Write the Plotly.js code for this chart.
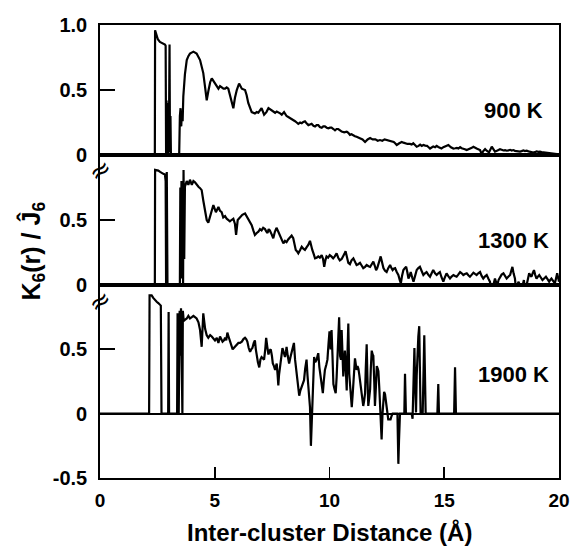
<!DOCTYPE html>
<html>
<head>
<meta charset="utf-8">
<script src="https://cdn.plot.ly/plotly-3.0.1.min.js"></script>
<style>html,body{margin:0;padding:0;background:#fff;}#chart{width:571px;height:548px;}</style>
</head>
<body>
<div id="chart"></div>
<script>
// ---- data ----
const x900 = [0, 2.39, 2.40, 2.45, 2.52, 2.61, 2.72, 2.83, 2.86, 2.88, 2.90, 2.92, 2.94, 2.96, 2.98, 3.00, 3.03, 3.05, 3.07, 3.09, 3.45, 3.48, 3.51, 3.54, 3.57, 3.60, 3.63, 3.70, 3.78, 3.85, 3.92, 4.07, 4.21, 4.36, 4.50, 4.58, 4.65, 4.72, 4.80, 4.87, 4.94, 5.01, 5.09, 5.16, 5.23, 5.30, 5.38, 5.45, 5.52, 5.59, 5.67, 5.74, 5.81, 5.88, 5.96, 6.06, 6.18, 6.32, 6.39, 6.46, 6.54, 6.61, 6.75, 6.83, 6.90, 6.97, 7.04, 7.15, 7.25, 7.34, 7.48, 7.55, 7.63, 7.70, 7.77, 7.85, 7.92, 8.02, 8.13, 8.24, 8.35, 8.42, 8.50, 8.57, 8.64, 8.72, 8.79, 8.86, 8.93, 9.00, 9.08, 9.15, 9.22, 9.30, 9.37, 9.44, 9.51, 9.58, 9.66, 9.73, 9.80, 9.88, 9.95, 10.02, 10.09, 10.17, 10.24, 10.31, 10.38, 10.46, 10.53, 10.64, 10.75, 10.82, 10.89, 10.96, 11.04, 11.11, 11.18, 11.26, 11.33, 11.44, 11.55, 11.66, 11.77, 11.88, 12.00, 12.10, 12.20, 12.30, 12.40, 12.52, 12.64, 12.72, 12.80, 12.86, 12.93, 13.04, 13.15, 13.22, 13.30, 13.40, 13.51, 13.58, 13.65, 13.72, 13.80, 13.88, 13.95, 14.02, 14.09, 14.17, 14.25, 14.32, 14.38, 14.45, 14.52, 14.60, 14.67, 14.74, 14.81, 14.88, 14.96, 15.07, 15.18, 15.29, 15.40, 15.48, 15.55, 15.62, 15.69, 15.76, 15.83, 15.90, 15.98, 16.05, 16.12, 16.20, 16.27, 16.34, 16.41, 16.48, 16.56, 16.60, 16.63, 16.70, 16.78, 16.85, 16.95, 17.07, 17.14, 17.21, 17.32, 17.43, 17.50, 17.58, 17.65, 17.72, 17.80, 17.87, 17.94, 18.01, 18.08, 18.15, 18.23, 18.30, 18.37, 18.45, 18.52, 18.59, 18.67, 18.74, 18.81, 18.88, 18.95, 19.02, 19.10, 19.17, 19.24, 19.31, 19.38, 19.46, 19.53, 19.60, 19.68, 19.75, 19.82, 19.90, 20.00];
const y900 = [0, 0, 0.96, 0.92, 0.89, 0.87, 0.86, 0.85, 0.84, 0.00, 0.42, 0.02, 0.38, 0.00, 0.40, 0.05, 0.85, 0.02, 0.30, 0.00, 0.00, 0.30, 0.36, 0.22, 0.34, 0.26, 0.45, 0.62, 0.73, 0.76, 0.78, 0.795, 0.78, 0.73, 0.63, 0.52, 0.42, 0.49, 0.56, 0.59, 0.57, 0.55, 0.53, 0.51, 0.53, 0.52, 0.51, 0.51, 0.52, 0.51, 0.45, 0.40, 0.36, 0.44, 0.50, 0.55, 0.51, 0.50, 0.46, 0.40, 0.36, 0.33, 0.32, 0.33, 0.325, 0.34, 0.36, 0.31, 0.33, 0.36, 0.34, 0.33, 0.325, 0.335, 0.33, 0.32, 0.31, 0.33, 0.30, 0.29, 0.28, 0.27, 0.26, 0.25, 0.24, 0.25, 0.245, 0.255, 0.26, 0.245, 0.23, 0.235, 0.24, 0.225, 0.22, 0.23, 0.23, 0.215, 0.21, 0.22, 0.22, 0.21, 0.205, 0.21, 0.21, 0.20, 0.19, 0.20, 0.20, 0.19, 0.18, 0.175, 0.18, 0.17, 0.155, 0.16, 0.15, 0.145, 0.14, 0.135, 0.13, 0.12, 0.10, 0.12, 0.13, 0.12, 0.12, 0.11, 0.115, 0.11, 0.12, 0.115, 0.11, 0.105, 0.10, 0.09, 0.077, 0.09, 0.10, 0.095, 0.09, 0.085, 0.085, 0.08, 0.09, 0.075, 0.064, 0.07, 0.08, 0.07, 0.077, 0.072, 0.07, 0.06, 0.05, 0.058, 0.065, 0.06, 0.07, 0.062, 0.055, 0.05, 0.06, 0.068, 0.077, 0.06, 0.05, 0.052, 0.055, 0.05, 0.06, 0.052, 0.05, 0.045, 0.038, 0.042, 0.045, 0.055, 0.064, 0.055, 0.05, 0.045, 0.038, 0.02, 0.005, 0.03, 0.045, 0.033, 0.02, 0.064, 0.04, 0.026, 0.035, 0.044, 0.04, 0.035, 0.038, 0.033, 0.036, 0.04, 0.034, 0.038, 0.032, 0.03, 0.028, 0.026, 0.03, 0.035, 0.03, 0.033, 0.028, 0.025, 0.02, 0.018, 0.022, 0.028, 0.024, 0.026, 0.022, 0.02, 0.019, 0.018, 0.016, 0.015, 0.014, 0.013, 0.01, 0.008, 0.005];

const x1300 = [0, 2.39, 2.40, 2.47, 2.54, 2.62, 2.69, 2.76, 2.83, 2.86, 2.88, 2.91, 2.94, 3.48, 3.50, 3.52, 3.55, 3.57, 3.60, 3.62, 3.64, 3.67, 3.70, 3.78, 3.85, 3.92, 4.00, 4.07, 4.14, 4.21, 4.29, 4.36, 4.43, 4.50, 4.58, 4.65, 4.72, 4.82, 4.94, 5.05, 5.16, 5.23, 5.30, 5.37, 5.45, 5.52, 5.59, 5.66, 5.73, 5.81, 5.88, 5.93, 6.00, 6.10, 6.20, 6.32, 6.39, 6.46, 6.54, 6.61, 6.68, 6.75, 6.83, 6.90, 6.97, 7.04, 7.11, 7.19, 7.25, 7.30, 7.35, 7.40, 7.48, 7.55, 7.62, 7.69, 7.77, 7.84, 7.92, 7.99, 8.06, 8.13, 8.20, 8.28, 8.35, 8.42, 8.48, 8.53, 8.58, 8.64, 8.72, 8.79, 8.86, 8.93, 9.00, 9.08, 9.15, 9.20, 9.25, 9.31, 9.37, 9.44, 9.51, 9.58, 9.66, 9.72, 9.77, 9.82, 9.87, 9.94, 10.01, 10.08, 10.16, 10.23, 10.31, 10.38, 10.45, 10.53, 10.60, 10.65, 10.70, 10.75, 10.82, 10.89, 10.96, 11.04, 11.11, 11.18, 11.25, 11.33, 11.40, 11.47, 11.55, 11.62, 11.70, 11.77, 11.84, 11.91, 11.97, 12.03, 12.08, 12.13, 12.18, 12.23, 12.29, 12.35, 12.42, 12.49, 12.56, 12.64, 12.70, 12.75, 12.80, 12.86, 12.93, 13.00, 13.06, 13.11, 13.16, 13.22, 13.28, 13.34, 13.39, 13.44, 13.49, 13.54, 13.60, 13.66, 13.73, 13.80, 13.87, 13.94, 14.01, 14.09, 14.16, 14.23, 14.30, 14.38, 14.45, 14.52, 14.60, 14.67, 14.74, 14.81, 14.88, 14.96, 15.03, 15.10, 15.17, 15.25, 15.32, 15.40, 15.47, 15.54, 15.61, 15.69, 15.76, 15.83, 15.90, 15.98, 16.05, 16.12, 16.20, 16.27, 16.34, 16.41, 16.48, 16.56, 16.63, 16.70, 16.77, 16.85, 16.92, 16.99, 17.05, 17.09, 17.14, 17.21, 17.26, 17.31, 17.37, 17.43, 17.50, 17.58, 17.65, 17.72, 17.80, 17.87, 17.92, 17.97, 18.02, 18.08, 18.12, 18.16, 18.20, 18.23, 18.30, 18.37, 18.42, 18.47, 18.52, 18.55, 18.59, 18.65, 18.70, 18.75, 18.80, 18.85, 18.91, 18.96, 19.02, 19.08, 19.14, 19.20, 19.28, 19.35, 19.43, 19.50, 19.57, 19.62, 19.67, 19.75, 19.82, 19.87, 19.92, 19.97, 20.00];
const y1300 = [0, 0, 0.885, 0.885, 0.88, 0.87, 0.86, 0.855, 0.85, 0.80, 0.00, 0.87, 0.00, 0.00, 0.75, 0.10, 0.80, 0.05, 0.70, 0.00, 0.885, 0.20, 0.756, 0.80, 0.77, 0.81, 0.77, 0.80, 0.79, 0.77, 0.756, 0.745, 0.73, 0.65, 0.56, 0.50, 0.48, 0.55, 0.615, 0.56, 0.60, 0.57, 0.56, 0.52, 0.53, 0.51, 0.50, 0.49, 0.50, 0.51, 0.47, 0.385, 0.50, 0.52, 0.54, 0.55, 0.53, 0.51, 0.49, 0.46, 0.42, 0.385, 0.40, 0.41, 0.43, 0.42, 0.44, 0.43, 0.41, 0.40, 0.43, 0.42, 0.39, 0.36, 0.41, 0.44, 0.41, 0.385, 0.35, 0.32, 0.34, 0.33, 0.35, 0.37, 0.38, 0.36, 0.31, 0.27, 0.26, 0.244, 0.27, 0.295, 0.28, 0.27, 0.29, 0.31, 0.34, 0.30, 0.27, 0.24, 0.205, 0.21, 0.22, 0.21, 0.23, 0.20, 0.14, 0.19, 0.22, 0.21, 0.23, 0.22, 0.205, 0.22, 0.244, 0.21, 0.19, 0.20, 0.22, 0.24, 0.26, 0.22, 0.17, 0.16, 0.19, 0.205, 0.18, 0.154, 0.16, 0.17, 0.15, 0.13, 0.14, 0.154, 0.145, 0.14, 0.16, 0.18, 0.15, 0.115, 0.13, 0.154, 0.19, 0.22, 0.17, 0.13, 0.11, 0.10, 0.13, 0.154, 0.13, 0.115, 0.125, 0.13, 0.10, 0.077, 0.04, 0.013, 0.07, 0.115, 0.13, 0.14, 0.10, 0.05, 0.07, 0.10, 0.06, 0.026, 0.07, 0.115, 0.13, 0.14, 0.11, 0.077, 0.09, 0.10, 0.08, 0.064, 0.09, 0.115, 0.09, 0.077, 0.09, 0.10, 0.06, 0.026, 0.06, 0.09, 0.07, 0.05, 0.065, 0.077, 0.07, 0.064, 0.08, 0.10, 0.09, 0.077, 0.085, 0.09, 0.075, 0.064, 0.08, 0.095, 0.085, 0.077, 0.09, 0.10, 0.07, 0.05, 0.065, 0.077, 0.05, 0.026, -0.02, -0.06, 0.00, 0.05, 0.02, 0.00, 0.04, 0.064, 0.08, 0.09, 0.07, 0.05, 0.065, 0.077, 0.11, 0.14, 0.09, 0.05, -0.02, -0.07, 0.00, 0.026, 0.00, -0.038, 0.00, 0.038, -0.04, -0.09, 0.00, 0.05, 0.09, 0.075, 0.064, 0.09, 0.115, 0.08, 0.05, 0.065, 0.077, 0.06, 0.038, 0.05, 0.064, 0.045, 0.026, 0.04, 0.05, 0.03, 0.013, 0.05, 0.09, 0.05, 0.026];

const x1900 = [0, 2.14, 2.16, 2.25, 2.32, 2.40, 2.47, 2.54, 2.60, 2.65, 2.68, 2.97, 2.99, 3.01, 3.36, 3.38, 3.41, 3.43, 3.47, 3.50, 3.53, 3.56, 3.59, 3.61, 3.65, 3.70, 3.78, 3.85, 3.92, 4.00, 4.07, 4.14, 4.21, 4.29, 4.36, 4.43, 4.50, 4.58, 4.65, 4.72, 4.80, 4.87, 4.94, 5.01, 5.09, 5.16, 5.23, 5.30, 5.34, 5.40, 5.45, 5.50, 5.55, 5.60, 5.66, 5.72, 5.78, 5.83, 5.88, 5.95, 6.03, 6.10, 6.18, 6.25, 6.32, 6.37, 6.42, 6.48, 6.54, 6.59, 6.64, 6.70, 6.75, 6.79, 6.83, 6.88, 6.94, 6.99, 7.04, 7.10, 7.15, 7.20, 7.24, 7.29, 7.34, 7.39, 7.44, 7.49, 7.53, 7.58, 7.63, 7.67, 7.70, 7.74, 7.77, 7.80, 7.84, 7.90, 7.95, 8.00, 8.06, 8.10, 8.13, 8.18, 8.24, 8.30, 8.35, 8.40, 8.45, 8.50, 8.57, 8.62, 8.68, 8.73, 8.79, 8.84, 8.89, 8.94, 9.00, 9.04, 9.08, 9.12, 9.15, 9.19, 9.23, 9.27, 9.30, 9.33, 9.38, 9.44, 9.48, 9.51, 9.56, 9.62, 9.66, 9.71, 9.75, 9.80, 9.86, 9.91, 9.96, 10.00, 10.05, 10.09, 10.13, 10.17, 10.22, 10.27, 10.31, 10.34, 10.38, 10.42, 10.46, 10.50, 10.53, 10.57, 10.60, 10.64, 10.67, 10.71, 10.75, 10.78, 10.82, 10.86, 10.92, 10.97, 11.01, 11.04, 11.08, 11.11, 11.15, 11.18, 11.22, 11.26, 11.30, 11.33, 11.37, 11.40, 11.44, 11.47, 11.51, 11.55, 11.58, 11.62, 11.65, 11.69, 11.73, 11.77, 11.80, 11.84, 11.88, 11.91, 11.95, 11.98, 12.02, 12.06, 12.10, 12.13, 12.17, 12.20, 12.24, 12.27, 12.31, 12.35, 12.38, 12.42, 12.46, 12.49, 12.53, 12.56, 12.61, 12.66, 12.70, 12.75, 12.96, 12.98, 13.00, 13.03, 13.07, 13.26, 13.29, 13.33, 13.58, 13.62, 13.66, 13.70, 13.73, 13.77, 13.80, 13.83, 13.87, 13.91, 13.94, 13.97, 14.06, 14.09, 14.13, 14.16, 14.19, 14.70, 14.74, 14.77, 15.43, 15.47, 15.51, 20.00];
const y1900 = [0, 0, 0.92, 0.92, 0.90, 0.88, 0.87, 0.86, 0.85, 0.84, 0.00, 0.00, 0.79, 0.00, 0.00, 0.78, 0.10, 0.00, 0.80, 0.45, 0.82, 0.00, 0.00, 0.80, 0.72, 0.73, 0.74, 0.76, 0.74, 0.75, 0.76, 0.75, 0.74, 0.71, 0.65, 0.52, 0.78, 0.66, 0.61, 0.59, 0.61, 0.60, 0.58, 0.57, 0.59, 0.55, 0.60, 0.58, 0.56, 0.57, 0.59, 0.57, 0.63, 0.60, 0.56, 0.53, 0.50, 0.51, 0.52, 0.54, 0.55, 0.55, 0.56, 0.58, 0.59, 0.58, 0.56, 0.51, 0.48, 0.50, 0.51, 0.55, 0.57, 0.50, 0.44, 0.40, 0.36, 0.42, 0.44, 0.43, 0.42, 0.50, 0.59, 0.52, 0.46, 0.49, 0.50, 0.45, 0.39, 0.37, 0.34, 0.37, 0.39, 0.30, 0.22, 0.30, 0.36, 0.45, 0.51, 0.48, 0.44, 0.48, 0.52, 0.45, 0.39, 0.44, 0.48, 0.52, 0.55, 0.42, 0.31, 0.22, 0.14, 0.18, 0.21, 0.24, 0.26, 0.35, 0.42, 0.30, 0.18, 0.08, 0.05, -0.25, 0.00, 0.10, 0.30, 0.44, 0.40, 0.42, 0.45, 0.47, 0.36, 0.26, 0.20, 0.16, 0.25, 0.34, 0.38, 0.42, 0.55, 0.64, 0.50, 0.65, 0.45, 0.23, 0.19, 0.16, 0.28, 0.39, 0.60, 0.75, 0.45, 0.42, 0.65, 0.40, 0.29, 0.40, 0.49, 0.35, 0.18, 0.45, 0.70, 0.31, 0.15, 0.05, 0.15, 0.26, 0.36, 0.43, 0.38, 0.34, 0.37, 0.35, 0.30, 0.26, 0.20, 0.16, 0.10, 0.06, 0.10, 0.16, 0.35, 0.54, 0.30, 0.06, 0.12, 0.19, 0.35, 0.49, 0.46, 0.45, 0.25, 0.06, 0.20, 0.37, 0.35, 0.33, 0.20, 0.09, -0.05, -0.20, 0.00, 0.11, 0.17, 0.15, 0.08, 0.02, -0.02, -0.045, -0.045, -0.045, -0.02, 0.00, 0.00, -0.20, -0.39, -0.20, 0.00, 0.00, 0.31, 0.00, 0.00, -0.04, 0.20, 0.51, 0.25, 0.01, 0.30, 0.50, 0.60, 0.68, 0.30, 0.00, 0.00, 0.30, 0.61, 0.30, 0.00, 0.00, 0.23, 0.00, 0.00, 0.36, 0.00, 0.00];

const tempLabels = ["900 K", "1300 K", "1900 K"];
const xTickVals = [0, 5, 10, 15, 20];
const xTickText = ["0", "5", "10", "15", "20"];
const y1TickVals = [0, 0.5, 1.0];
const y1TickText = ["0", "0.5", "1.0"];
const y2TickVals = [0, 0.5];
const y2TickText = ["0", "0.5"];
const y3TickVals = [-0.5, 0, 0.5];
const y3TickText = ["-0.5", "0", "0.5"];
const xTitle = "Inter-cluster Distance (Å)";
const yTitle = "K<sub>6</sub>(r) / Ĵ<sub>6</sub>";

// ---- chart ----
const FONT = "Liberation Sans, Arial, Helvetica, sans-serif";
const lineStyle = {color: "#000", width: 2.2};
const traces = [
  {x: x900, y: y900, xaxis: "x", yaxis: "y", mode: "lines", line: lineStyle, hoverinfo: "skip"},
  {x: x1300, y: y1300, xaxis: "x2", yaxis: "y2", mode: "lines", line: lineStyle, hoverinfo: "skip"},
  {x: x1900, y: y1900, xaxis: "x3", yaxis: "y3", mode: "lines", line: lineStyle, hoverinfo: "skip"}
];

const xTickFont = {family: FONT, size: 19, color: "#000", weight: "bold"};
const yTickFont = {family: FONT, size: 20, color: "#000", weight: "bold"};
function xAx(anchor, labels) {
  return {
    anchor: anchor, range: [0, 20], showgrid: false, zeroline: false,
    showline: true, mirror: true, linecolor: "#000", linewidth: 1.8,
    tickvals: xTickVals, ticktext: xTickText,
    ticks: labels ? "inside" : "", ticklen: 11, tickwidth: 1.8, tickcolor: "#000",
    showticklabels: labels, tickfont: xTickFont, ticklabelstandoff: 4
  };
}
function yAx(domain, range, tv, tt, zl) {
  return {
    domain: domain, range: range, showgrid: false,
    zeroline: zl, zerolinecolor: "#000", zerolinewidth: 1.8,
    showline: true, mirror: true, linecolor: "#000", linewidth: 1.8,
    tickvals: tv, ticktext: tt, ticks: "inside", ticklen: 15, tickwidth: 1.8, tickcolor: "#000",
    tickfont: yTickFont, ticklabelstandoff: 7
  };
}

const lblFont = {family: FONT, size: 22, color: "#000", weight: "bold"};
const brkFont = {family: "DejaVu Sans, sans-serif", size: 26, color: "#000"};
const layout = {
  width: 571, height: 548,
  margin: {l: 100, r: 12, t: 25, b: 70},
  paper_bgcolor: "#fff", plot_bgcolor: "#fff",
  showlegend: false,
  xaxis: xAx("y", false),
  xaxis2: xAx("y2", false),
  xaxis3: xAx("y3", true),
  yaxis: yAx([0.713, 1], [0, 1.0], y1TickVals, y1TickText, false),
  yaxis2: yAx([0.426, 0.713], [0, 1.0], y2TickVals, y2TickText, false),
  yaxis3: yAx([0, 0.426], [-0.5, 1.0], y3TickVals, y3TickText, true),
  annotations: [
    {xref: "x", yref: "y", x: 19.4, y: 0.346, xanchor: "right", yanchor: "middle", text: tempLabels[0], showarrow: false, font: lblFont},
    {xref: "x2", yref: "y2", x: 19.65, y: 0.346, xanchor: "right", yanchor: "middle", text: tempLabels[1], showarrow: false, font: lblFont},
    {xref: "x3", yref: "y3", x: 19.65, y: 0.305, xanchor: "right", yanchor: "middle", text: tempLabels[2], showarrow: false, font: lblFont},
    {xref: "paper", yref: "paper", x: 0.5, y: 0, yshift: -54, xanchor: "center", yanchor: "middle", text: xTitle, showarrow: false, font: {family: FONT, size: 24, color: "#000", weight: "bold"}},
    {xref: "paper", yref: "paper", x: 0, y: 0.5, xshift: -68, xanchor: "center", yanchor: "middle", textangle: -90, text: yTitle, showarrow: false, font: {family: FONT, size: 25, color: "#000", weight: "bold"}},
    {xref: "paper", yref: "y2", x: 0, y: 0.885, xanchor: "center", yanchor: "middle", textangle: -35, text: "≈", showarrow: false, font: brkFont},
    {xref: "paper", yref: "y3", x: 0, y: 0.875, xanchor: "center", yanchor: "middle", textangle: -35, text: "≈", showarrow: false, font: brkFont}
  ]
};

Plotly.newPlot("chart", traces, layout, {staticPlot: true, displayModeBar: false});
</script>
</body>
</html>
